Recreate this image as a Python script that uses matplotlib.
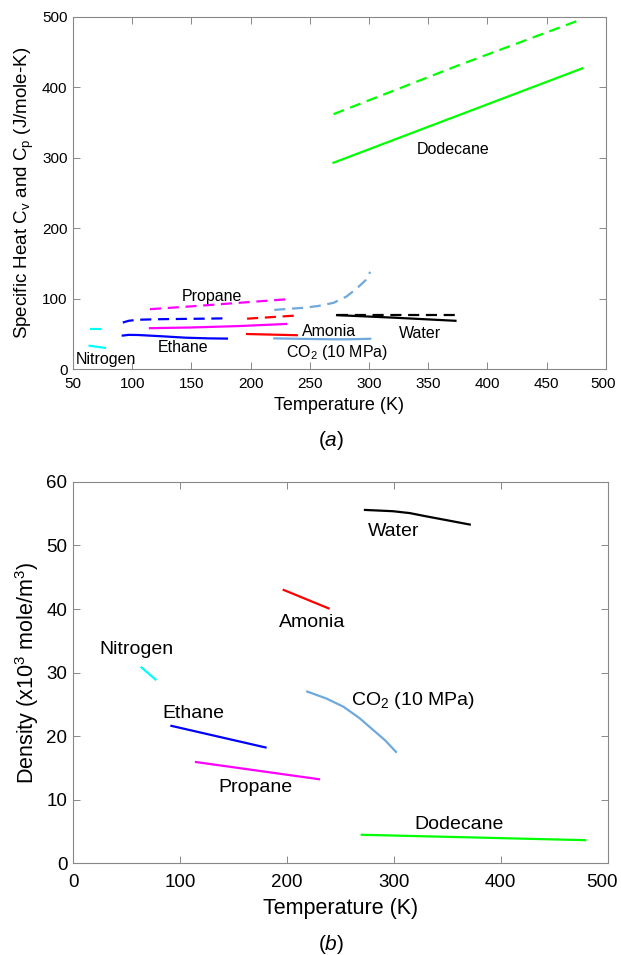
import numpy as np
import matplotlib
matplotlib.use("Agg")
import matplotlib.pyplot as plt
from matplotlib.transforms import ScaledTranslation

plt.rcParams['font.family'] = ['Liberation Sans', 'DejaVu Sans']
plt.rcParams['mathtext.fontset'] = 'custom'
plt.rcParams['mathtext.rm'] = 'Liberation Sans'
plt.rcParams['mathtext.it'] = 'Liberation Sans:italic'

# ---- (a) specific heat, solid = Cv, dashed = Cp
n2_T = [64, 77]
n2_cv = [33, 30]
n2_cp = [57, 57]

eth_T = [92, 97, 105, 125, 145, 165, 180]
eth_cv = [47.5, 48.5, 48.3, 46.5, 44.5, 43.5, 43.2]
eth_cp = [66, 68.5, 70, 70.8, 71.2, 71.6, 72]

prop_T = [115, 150, 190, 230]
prop_cv = [58, 59, 61, 64]
prop_cp = [85, 89, 94, 99]

nh3_T = [197, 239]
nh3_cv = [49.7, 48]
nh3_cp = [71.5, 76]

co2_T = [220, 245, 257, 270, 281, 290, 297, 301]
co2_cv = [43.5, 42.8, 42.5, 42.2, 42.2, 42.5, 42.8, 43]
co2_cp = [84, 87, 89.5, 94, 103, 115, 126, 138]

h2o_T = [273, 320, 373]
h2o_cv = [76.5, 73, 68.5]
h2o_cp = [76.5, 76.5, 76.5]

dod_T = [270, 375, 480]
dod_cv = [293, 360, 427]
dod_cp = [362, 431, 497]

# ---- (b) density (x10^3 mole/m^3)
n2_rho = [30.8, 28.9]
eth_rT = [92, 180]
eth_rho = [21.6, 18.2]
prop_rT = [115, 230]
prop_rho = [15.9, 13.2]
nh3_rho = [43.0, 40.1]
co2_rT = [219, 237, 253, 268, 281, 292, 302]
co2_rho = [27.0, 25.9, 24.6, 22.8, 20.9, 19.3, 17.5]
h2o_rT = [273, 299, 315, 330, 349, 371]
h2o_rho = [55.6, 55.4, 55.1, 54.6, 54.0, 53.3]
dod_rT = [270, 479]
dod_rho = [4.45, 3.6]

c_n2 = '#00FFFF'
c_eth = '#0000FF'
c_prop = '#FF00FF'
c_nh3 = '#FF0000'
c_co2 = '#6FA8DC'
c_h2o = '#000000'
c_dod = '#00FF00'

fig = plt.figure(figsize=(6.21, 9.55), dpi=100)
ax1 = fig.add_axes([0.1176, 0.6136, 0.858, 0.3686])
ax2 = fig.add_axes([0.1176, 0.0963, 0.861, 0.3990])

lw = 1.6
for T, cv, cp, c in [(n2_T, n2_cv, n2_cp, c_n2), (eth_T, eth_cv, eth_cp, c_eth),
                     (prop_T, prop_cv, prop_cp, c_prop), (nh3_T, nh3_cv, nh3_cp, c_nh3),
                     (co2_T, co2_cv, co2_cp, c_co2), (h2o_T, h2o_cv, h2o_cp, c_h2o),
                     (dod_T, dod_cv, dod_cp, c_dod)]:
    ax1.plot(T, cv, '-', color=c, lw=lw)
    ax1.plot(T, cp, '--', color=c, lw=lw, dashes=(5, 3))

fs1 = 11.5
ax1.text(167, 103, 'Propane', fontsize=fs1, ha='center', va='center')
ax1.text(143, 31, 'Ethane', fontsize=fs1, ha='center', va='center')
ax1.text(78, 14, 'Nitrogen', fontsize=fs1, ha='center', va='center')
ax1.text(266, 53, 'Amonia', fontsize=fs1, ha='center', va='center')
ax1.text(343, 51, 'Water', fontsize=fs1, ha='center', va='center')
ax1.text(273, 23, 'CO$_2$ (10 MPa)', fontsize=fs1, ha='center', va='center')
ax1.text(371, 312, 'Dodecane', fontsize=fs1, ha='center', va='center')

ax1.set_xlim(50, 500)
ax1.set_ylim(0, 500)
ax1.set_xticks(np.arange(50, 501, 50))
ax1.set_yticks(np.arange(0, 501, 100))
ax1.set_xlabel('Temperature (K)', fontsize=13, labelpad=4)
ax1.set_ylabel(r'Specific Heat C$_\mathrm{v}$ and C$_\mathrm{p}$ (J/mole-K)', fontsize=13.5, labelpad=4)
fig.text(0.533, 0.539, '($a$)', fontsize=15, ha='center', va='center')

ax2.plot(n2_T, n2_rho, color=c_n2, lw=lw)
ax2.plot(eth_rT, eth_rho, color=c_eth, lw=lw)
ax2.plot(prop_rT, prop_rho, color=c_prop, lw=lw)
ax2.plot(nh3_T, nh3_rho, color=c_nh3, lw=lw)
ax2.plot(co2_rT, co2_rho, color=c_co2, lw=lw)
ax2.plot(h2o_rT, h2o_rho, color=c_h2o, lw=lw)
ax2.plot(dod_rT, dod_rho, color=c_dod, lw=lw)

fs2 = 14
ax2.text(300, 52.2, 'Water', fontsize=fs2, ha='center', va='center')
ax2.text(224, 37.9, 'Amonia', fontsize=fs2, ha='center', va='center')
ax2.text(59.5, 33.7, 'Nitrogen', fontsize=fs2, ha='center', va='center')
ax2.text(112.5, 23.6, 'Ethane', fontsize=fs2, ha='center', va='center')
ax2.text(318, 25.6, 'CO$_2$ (10 MPa)', fontsize=fs2, ha='center', va='center')
ax2.text(171, 11.9, 'Propane', fontsize=fs2, ha='center', va='center')
ax2.text(361, 6.0, 'Dodecane', fontsize=fs2, ha='center', va='center')

ax2.set_xlim(0, 500)
ax2.set_ylim(0, 60)
ax2.set_xticks(np.arange(0, 501, 100))
ax2.set_yticks(np.arange(0, 61, 10))
ax2.set_xlabel('Temperature (K)', fontsize=15.5, labelpad=5)
ax2.set_ylabel('Density (x10$^3$ mole/m$^3$)', fontsize=15.5, labelpad=4)
fig.text(0.533, 0.011, '($b$)', fontsize=15, ha='center', va='center')

for ax, ls, pd in ((ax1, 11, 6), (ax2, 13.5, 8)):
    ax.tick_params(direction='in', top=True, right=True, length=5, width=0.7,
                   color='#888888', labelsize=ls)
    ax.tick_params(axis='x', pad=pd)
    ax.tick_params(axis='y', pad=4)
    for s in ax.spines.values():
        s.set_color('#888888')
        s.set_linewidth(0.8)

# last x label sits right at the figure edge, nudge it in a bit
for ax, dx in ((ax1, -2), (ax2, -4)):
    lab = ax.get_xticklabels()[-1]
    lab.set_transform(lab.get_transform() + ScaledTranslation(dx / 72, 0, fig.dpi_scale_trans))

fig.savefig('out.png', dpi=100)
